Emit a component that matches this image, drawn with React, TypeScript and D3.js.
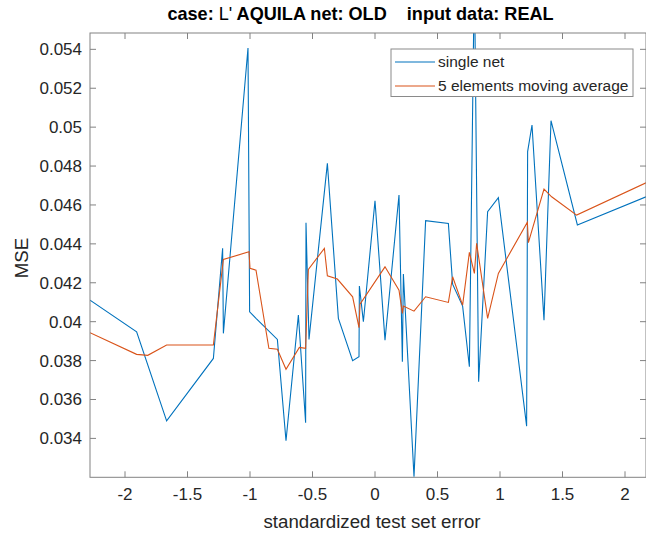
import React from 'react';
import * as d3 from 'd3';

// Single network MSE against standardized test set error
const singleNetX = [
  -2.28, -1.907, -1.667, -1.293, -1.219, -1.213, -1.016, -1.003, -0.952, -0.781,
  -0.712, -0.613, -0.555, -0.552, -0.528, -0.381, -0.293, -0.179, -0.128, -0.125,
  -0.093, 0.0, 0.08, 0.192, 0.219, 0.227, 0.312, 0.405, 0.587, 0.621,
  0.701, 0.755, 0.795, 0.829, 0.901, 0.987, 1.213, 1.221, 1.256, 1.352,
  1.408, 1.619, 2.168,
];
const singleNetMSE = [
  0.04111, 0.03948, 0.0349, 0.03811, 0.04377, 0.0394, 0.05407, 0.04051, 0.04017, 0.03909,
  0.03388, 0.04034, 0.0348, 0.04508, 0.03909, 0.04814, 0.04017, 0.03799, 0.0382, 0.04183,
  0.04, 0.04622, 0.03905, 0.04651, 0.03794, 0.04245, 0.03203, 0.04519, 0.04505, 0.04193,
  0.0408, 0.03768, 0.058, 0.03691, 0.04565, 0.04637, 0.03463, 0.04874, 0.05011, 0.04008,
  0.05033, 0.04497, 0.04642,
];

// 5 elements moving average
const movingAvgX = [
  -2.28, -1.907, -1.818, -1.667, -1.293, -1.213, -1.008, -1.0, -0.952, -0.849,
  -0.781, -0.712, -0.605, -0.555, -0.533, -0.405, -0.381, -0.301, -0.179, -0.128,
  -0.12, 0.08, 0.192, 0.219, 0.227, 0.312, 0.405, 0.587, 0.621, 0.701,
  0.755, 0.795, 0.813, 0.901, 0.987, 1.219, 1.227, 1.352, 1.413, 1.613,
  2.168,
];
const movingAvgMSE = [
  0.03943, 0.03832, 0.03827, 0.0388, 0.0388, 0.0432, 0.04359, 0.04274, 0.04265, 0.03863,
  0.03858, 0.03755, 0.03868, 0.03863, 0.04269, 0.04377, 0.04236, 0.04219, 0.04128, 0.03969,
  0.0409, 0.04282, 0.04162, 0.04043, 0.0408, 0.04054, 0.04128, 0.04099, 0.04231, 0.04085,
  0.04356, 0.04248, 0.04403, 0.04017, 0.04248, 0.04511, 0.04406, 0.04682, 0.04642, 0.04548,
  0.04714,
];

const xTicks = [-2, -1.5, -1, -0.5, 0, 0.5, 1, 1.5, 2];
const yTicks = [0.034, 0.036, 0.038, 0.04, 0.042, 0.044, 0.046, 0.048, 0.05, 0.052, 0.054];
const xDomain = [-2.28, 2.168];
const yDomain = [0.032, 0.05484];

const seriesNames = ['single net', '5 elements moving average'];
const seriesColors = ['#0072BD', '#D95319'];
const titleParts = ['case: ', "L'", ' AQUILA net: OLD    input data: REAL'];
const xLabel = 'standardized test set error';
const yLabel = 'MSE';

const W = 646;
const H = 536;
const plot = { left: 90, right: 646, top: 33, bottom: 477.3 };
const FONT = '"Liberation Sans", Arial, Helvetica, sans-serif';
const AXIS = '#828282';
const TEXT = '#262626';
const TICK = 6;

export default function App() {
  const x = d3.scaleLinear().domain(xDomain).range([plot.left, plot.right]);
  const y = d3.scaleLinear().domain(yDomain).range([plot.bottom, plot.top]);

  const line = d3
    .line<[number, number]>()
    .x((d) => x(d[0]))
    .y((d) => y(d[1]));

  const singlePts = singleNetX.map((v, i) => [v, singleNetMSE[i]] as [number, number]);
  const avgPts = movingAvgX.map((v, i) => [v, movingAvgMSE[i]] as [number, number]);

  const fmt = (v: number) => String(+v.toFixed(4));

  const legend = { x: 391, y: 49, w: 242, h: 47.5 };

  return (
    <svg
      width={W}
      height={H}
      style={{ position: 'absolute', left: 0, top: 0, background: '#fff' }}
      fontFamily={FONT}
    >
      <defs>
        <clipPath id="plotArea">
          <rect x={plot.left} y={plot.top} width={plot.right - plot.left} height={plot.bottom - plot.top} />
        </clipPath>
      </defs>
      <rect x={0} y={0} width={W} height={H} fill="#fff" />

      <g clipPath="url(#plotArea)">
        <path d={line(singlePts) || ''} fill="none" stroke={seriesColors[0]} strokeWidth={1.1} />
        <path d={line(avgPts) || ''} fill="none" stroke={seriesColors[1]} strokeWidth={1.1} />
      </g>

      {/* axes box */}
      <rect
        x={plot.left}
        y={plot.top}
        width={plot.right - plot.left}
        height={plot.bottom - plot.top}
        fill="none"
        stroke={AXIS}
        strokeWidth={1}
      />

      {xTicks.map((t) => (
        <g key={'x' + t}>
          <line x1={x(t)} x2={x(t)} y1={plot.bottom} y2={plot.bottom - TICK} stroke={AXIS} />
          <line x1={x(t)} x2={x(t)} y1={plot.top} y2={plot.top + TICK} stroke={AXIS} />
          <text x={x(t)} y={500} textAnchor="middle" fontSize={17} fill={TEXT}>
            {fmt(t)}
          </text>
        </g>
      ))}

      {yTicks.map((t) => (
        <g key={'y' + t}>
          <line x1={plot.left} x2={plot.left + TICK} y1={y(t)} y2={y(t)} stroke={AXIS} />
          <line x1={plot.right} x2={plot.right - TICK} y1={y(t)} y2={y(t)} stroke={AXIS} />
          <text x={82} y={y(t)} dy="0.35em" textAnchor="end" fontSize={17} fill={TEXT}>
            {fmt(t)}
          </text>
        </g>
      ))}

      <text x={372} y={528} textAnchor="middle" fontSize={18.7} fill={TEXT}>
        {xLabel}
      </text>
      <text
        transform={`translate(28, 258) rotate(-90)`}
        textAnchor="middle"
        fontSize={18.7}
        fill={TEXT}
      >
        {yLabel}
      </text>

      <text x={360.5} y={20} textAnchor="middle" fontSize={18.1} fill="#000" fontWeight="bold">
        <tspan>{titleParts[0]}</tspan>
        <tspan fontWeight="normal">{titleParts[1]}</tspan>
        <tspan style={{ whiteSpace: 'pre' }}>{titleParts[2]}</tspan>
      </text>

      {/* legend */}
      <rect x={legend.x} y={legend.y} width={legend.w} height={legend.h} fill="#fff" stroke="#8a8a8a" strokeWidth={1} />
      {seriesNames.map((name, i) => {
        const ly = legend.y + 13 + i * 24;
        return (
          <g key={name}>
            <line x1={legend.x + 4} x2={legend.x + 44} y1={ly} y2={ly} stroke={seriesColors[i]} strokeWidth={1.1} />
            <text x={legend.x + 47} y={ly} dy="0.35em" fontSize={15.5} fill={TEXT}>
              {name}
            </text>
          </g>
        );
      })}
    </svg>
  );
}
